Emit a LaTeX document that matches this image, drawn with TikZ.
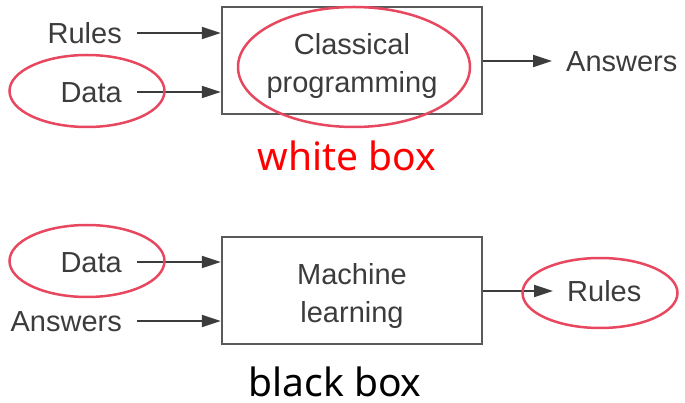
\documentclass[tikz,border=0pt]{standalone}
\usepackage{fontspec}
\setmainfont{Liberation Sans}
\newfontfamily\capfont{Noto Sans}
\usetikzlibrary{arrows.meta,shapes.geometric}
\definecolor{txtgray}{HTML}{3C3C3C}
\definecolor{boxgray}{HTML}{5A5A5A}
\definecolor{ringred}{HTML}{E8485F}
\begin{document}
\begin{tikzpicture}[x=1pt,y=-1pt,
  lbl/.style={font=\fontsize{29}{34}\selectfont, text=txtgray, inner sep=0pt, text height=21pt, text depth=0pt},
  procbox/.style={draw=boxgray, line width=2.5pt, fill=white, minimum width=260pt, minimum height=107pt},
  boxtext/.style={align=center, font=\fontsize{29}{38}\selectfont, text=txtgray, inner sep=0pt},
  arr/.style={draw=txtgray, line width=2pt, -{Triangle[length=19pt,width=12pt]}},
  ring/.style={draw=ringred, line width=2.5pt, ellipse, inner sep=0pt},
  caption/.style={font=\capfont\fontsize{39}{44}\selectfont, inner sep=0pt, text height=28pt, text depth=0pt}]
\useasboundingbox (0,0) rectangle (685,403);
% top: classical programming
\node[procbox] (cp) at (352,60.5) {};
\node[boxtext] (cptxt) at (352,66) {Classical\\programming};
\node[lbl, anchor=east] (rules1) at (122,33) {Rules};
\node[lbl, anchor=east] (data1) at (122,92) {Data};
\node[lbl, anchor=west] (ans1) at (566,61) {Answers};
\draw[arr, shorten <=15pt] (rules1.east) -- (rules1.east -| cp.west);
\draw[arr, shorten <=15pt] (data1.east) -- (data1.east -| cp.west);
\draw[arr] (ans1.west -| cp.east) -- ([xshift=-14pt]ans1.west);
\node[ring, minimum width=155pt, minimum height=72pt] (ringdata1) at (87,91) {};
\node[ring, minimum width=232pt, minimum height=120pt] (ringcp) at (354,67) {};
\node[caption, text=red] (wb) at (347,157) {white box};
% bottom: machine learning
\node[procbox] (ml) at (352,290.5) {};
\node[boxtext] (mltxt) at (352,296) {Machine\\learning};
\node[lbl, anchor=east] (data2) at (122,262) {Data};
\node[lbl, anchor=east] (ans2) at (122,321) {Answers};
\node[lbl, anchor=west] (rules2) at (567,291) {Rules};
\draw[arr, shorten <=15pt] (data2.east) -- (data2.east -| ml.west);
\draw[arr, shorten <=15pt] (ans2.east) -- (ans2.east -| ml.west);
\draw[arr] (rules2.west -| ml.east) -- ([xshift=-14pt]rules2.west);
\node[ring, minimum width=155pt, minimum height=72pt] (ringdata2) at (87,261) {};
\node[ring, minimum width=155pt, minimum height=70pt] (ringrules) at (600,293) {};
\node[caption, text=black] (bb) at (335,382) {black box};
\end{tikzpicture}
\end{document}
